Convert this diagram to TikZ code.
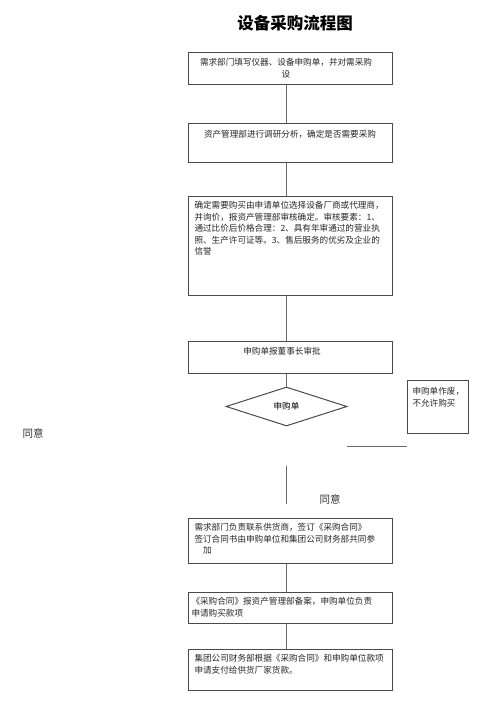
\documentclass[tikz,border=0pt]{standalone}
\usepackage{fontspec}
\setmainfont{Noto Sans CJK SC}
\usetikzlibrary{shapes.geometric}
\definecolor{edge}{HTML}{4A4A4A}
\definecolor{wire}{HTML}{6A6A6A}
\tikzset{
	every path/.style={line width=1pt},
	box/.style={
		draw=edge,
		rectangle,
		minimum width=204,
		inner sep=0,
	},
	decision/.style={
		draw=edge,
		diamond,
		aspect=3,
		inner sep=0,
		minimum width=121,
		minimum height=39,
		font=\fontsize{8.6}{11.5}\selectfont,
	},
	note/.style={
		inner sep=0,
		align=left,
		text=black!85,
		font=\fontsize{8.6}{11.5}\selectfont,
	},
	agree/.style={
		inner sep=0,
		text=black!80,
		font=\fontsize{10.5}{12}\selectfont,
	},
	link/.style={
		draw=wire,
	},
}

\begin{document}
\begin{tikzpicture}[x=1pt,y=-1pt]
	\useasboundingbox (0,0) rectangle (500,708);
	\coordinate (axis) at (286.5,0);

	\node[font=\fontsize{16.5}{18}\selectfont\bfseries] (title) at (295,23) {设备采购流程图};

	\node[box, minimum height=32] 	(need) at (290,69) {};
	\node[box, minimum height=39] 	(survey) at (290,143.5) {};
	\node[box, minimum height=98] 	(select) at (290,246) {};
	\node[box, minimum height=32] 	(approve) at (290,357) {};
	\node[decision] 				(check) at (286.5,406.5) {申购单};
	\node[box, minimum width=61, minimum height=53] (reject) at (437.5,406.5) {};
	\node[box, minimum height=45] 	(sign) at (290,540.5) {};
	\node[box, minimum height=31] 	(record) at (290,607.5) {};
	\node[box, minimum height=41] 	(pay) at (290,669.5) {};

	\node[note, align=center] 		(needText) at (286,68) {需求部门填写仪器、设备申购单，并对需采购\\设};
	\node[note] 					(surveyText) at (290,134) {资产管理部进行调研分析，确定是否需要采购};
	\node[note, anchor=north west] 	(selectText) at (194,201) {确定需要购买由申请单位选择设备厂商或代理商，\\并询价，报资产管理部审核确定。审核要素：1、\\通过比价后价格合理：2、具有年审通过的营业执\\照、生产许可证等。3、售后服务的优劣及企业的\\信誉};
	\node[note] 					(approveText) at (282,351) {申购单报董事长审批};
	\node[note, anchor=north west] 	(rejectText) at (412,387) {申购单作废，\\不允许购买};
	\node[agree] 					(agreeLeft) at (33,433) {同意};
	\node[agree] 					(agreeRight) at (330,499) {同意};
	\node[note, anchor=north west] 	(signText) at (194,523) {需求部门负责联系供货商，签订《采购合同》\\签订合同书由申购单位和集团公司财务部共同参\\\hspace*{1em}加};
	\node[note, anchor=north west] 	(recordText) at (191,597) {《采购合同》报资产管理部备案，申购单位负责\\申请购买款项};
	\node[note, anchor=north west] 	(payText) at (194,654) {集团公司财务部根据《采购合同》和申购单位款项\\申请支付给供货厂家货款。};

	\coordinate (noStart) at (347,446);
	\coordinate (noEnd) at (407,446);
	\coordinate (yesTop) at (286.5,466);
	\coordinate (yesEnd) at (286.5,504);

	\draw[link] 	(need.south -| axis) -- (survey.north -| axis);
	\draw[link] 	(survey.south -| axis) -- (select.north -| axis);
	\draw[link] 	(select.south -| axis) -- (approve.north -| axis);
	\draw[link] 	(approve.south -| axis) -- (check.north);
	\draw[link] 	(noStart) -- (noEnd);
	\draw[link] 	(yesTop) -- (yesEnd);
	\draw[link] 	(sign.south -| axis) -- (record.north -| axis);
	\draw[link] 	(record.south -| axis) -- (pay.north -| axis);

\end{tikzpicture}
\end{document}
